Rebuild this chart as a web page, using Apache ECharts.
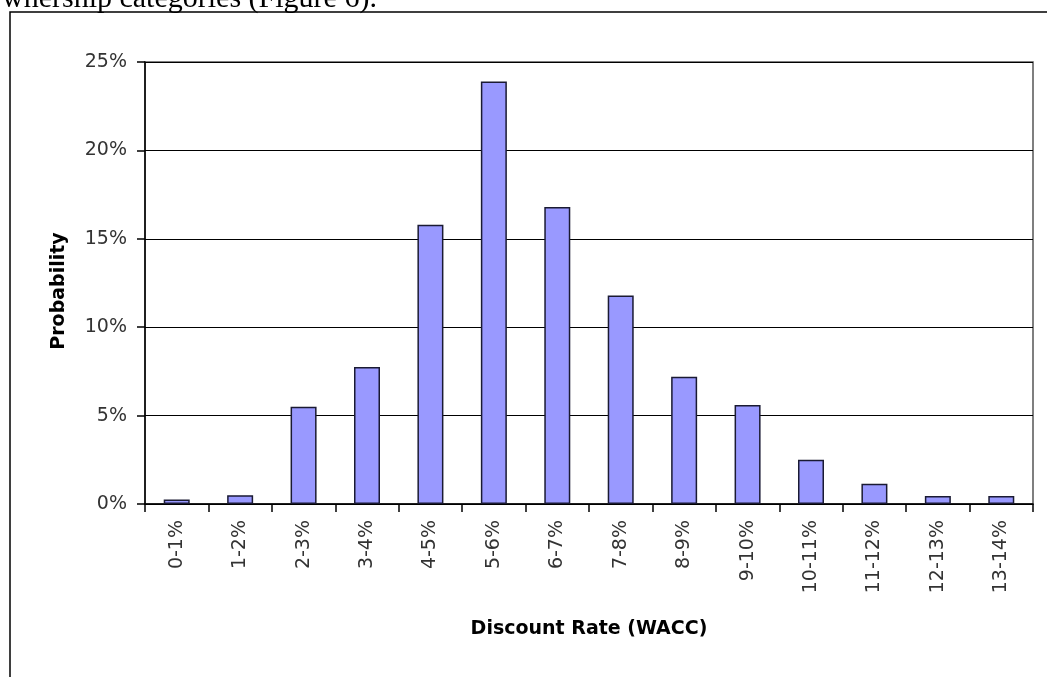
<!DOCTYPE html>
<html>
<head>
  <meta charset="utf-8">
  <title>Discount Rate</title>
  <script src="https://cdn.jsdelivr.net/npm/echarts@6/dist/echarts.min.js"></script>
  <style>
    html, body { margin: 0; padding: 0; background: #fff; }
  </style>
</head>
<body>
<div id="main" style="width: 1047px;height:677px;"></div>
<script type="text/javascript">
  // data
  var categories = ['0-1%', '1-2%', '2-3%', '3-4%', '4-5%', '5-6%', '6-7%',
                    '7-8%', '8-9%', '9-10%', '10-11%', '11-12%', '12-13%', '13-14%'];
  var probability = [0.25, 0.5, 5.5, 7.75, 15.8, 23.9, 16.8, 11.8, 7.2, 5.6, 2.5, 1.15, 0.45, 0.45];
  var yTicks = [0, 5, 10, 15, 20, 25];

  var chartDom = document.getElementById('main');
  var myChart = echarts.init(chartDom);
  var option;

  var labelFont = '"DejaVu Sans", Arial, sans-serif';

  option = {
    animation: false,
    backgroundColor: '#fff',
    graphic: [
      {
        type: 'text',
        left: 2,
        top: -16,
        style: {
          text: 'wnership categories (Figure 6).',
          font: '30px "Liberation Serif", "DejaVu Serif", serif',
          fill: '#000'
        }
      },
      {
        type: 'rect',
        shape: { x: 10, y: 12, width: 1100, height: 720 },
        style: { fill: 'none', stroke: '#000', lineWidth: 1.5 },
        z: -1
      }
    ],
    grid: {
      left: 145,
      right: 14,
      top: 62,
      bottom: 173,
      show: true,
      borderColor: '#555',
      borderWidth: 1.5
    },
    xAxis: {
      type: 'category',
      data: categories,
      name: 'Discount Rate (WACC)',
      nameLocation: 'middle',
      nameGap: 116,
      nameTextStyle: {
        fontFamily: labelFont,
        fontWeight: 'bold',
        fontSize: 19,
        color: '#000'
      },
      axisLine: { lineStyle: { color: '#000', width: 1.5 } },
      axisTick: { show: true, inside: false, length: 8, alignWithLabel: false, lineStyle: { color: '#000', width: 1.5 } },
      axisLabel: {
        rotate: 90,
        margin: 16,
        fontFamily: labelFont,
        fontSize: 19,
        color: '#333',
        interval: 0
      }
    },
    yAxis: {
      type: 'value',
      min: yTicks[0],
      max: yTicks[yTicks.length - 1],
      interval: 5,
      name: 'Probability',
      nameLocation: 'middle',
      nameRotate: 90,
      nameGap: 76,
      nameTextStyle: {
        fontFamily: labelFont,
        fontWeight: 'bold',
        fontSize: 19,
        color: '#000',
        padding: [0, 16, 0, 0]
      },
      axisLine: { show: true, lineStyle: { color: '#000', width: 1.5 } },
      axisTick: { show: true, inside: false, length: 8, lineStyle: { color: '#000', width: 1.5 } },
      axisLabel: {
        formatter: '{value}%',
        margin: 18,
        fontFamily: labelFont,
        fontSize: 19,
        color: '#333'
      },
      splitLine: { show: true, lineStyle: { color: '#000', width: 1.2 } }
    },
    series: [
      {
        name: 'Probability',
        type: 'bar',
        data: probability,
        barWidth: 26,
        itemStyle: {
          color: '#9999ff',
          borderColor: '#1a1a33',
          borderWidth: 1.5
        }
      }
    ]
  };

  option && myChart.setOption(option);
</script>
</body>
</html>
